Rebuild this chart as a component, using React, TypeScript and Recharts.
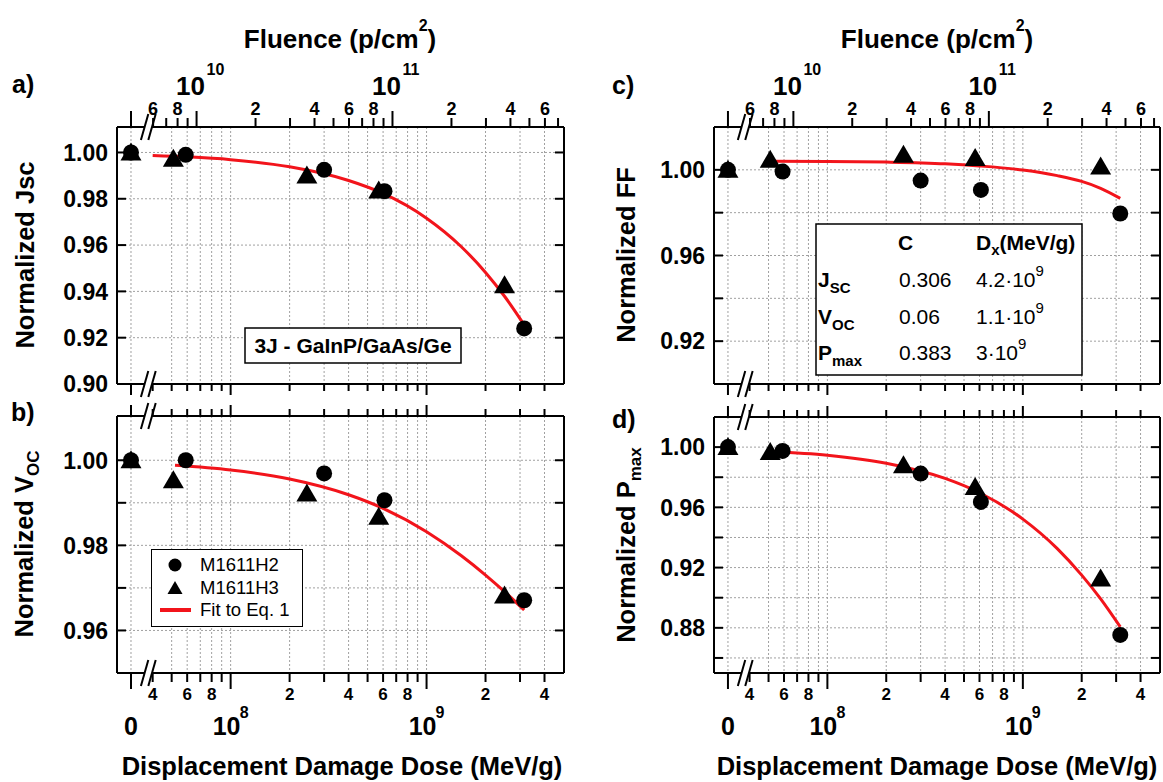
import React from 'react';
import { ComposedChart, Scatter, Line, XAxis, YAxis, CartesianGrid, Legend } from 'recharts';

const FONT = '"Liberation Sans", Arial, Helvetica, sans-serif';

/* ---------- measured cells ---------- */
// displacement damage dose (MeV/g); 0 = reference (unirradiated)
const doseH2 = [0, 5.9e7, 3.0e8, 6.1e8, 3.15e9];
const doseH3 = [0, 5.1e7, 2.45e8, 5.7e8, 2.5e9];

const jscH2 = [1.0, 0.999, 0.9925, 0.9833, 0.924];
const jscH3 = [1.0, 0.9973, 0.99, 0.9836, 0.9427];
const vocH2 = [1.0, 1.0, 0.9969, 0.9906, 0.9671];
const vocH3 = [1.0, 0.9953, 0.9922, 0.9867, 0.9682];
const ffH2 = [1.0, 0.9992, 0.995, 0.9906, 0.9796];
const ffH3 = [1.0, 1.0047, 1.0071, 1.0055, 1.0016];
const pmaxH2 = [1.0, 0.9975, 0.9824, 0.9636, 0.8753];
const pmaxH3 = [1.0, 0.9967, 0.9879, 0.9735, 0.9128];

/* ---------- fitted curves (Eq. 1) ---------- */
const fitDoseJsc = [4e7, 6e7, 1e8, 2e8, 4e8, 6e8, 1e9, 1.5e9, 2e9, 2.5e9, 3.2e9];
const fitJsc = [0.9987, 0.9981, 0.9969, 0.9938, 0.9879, 0.9823, 0.9716, 0.9594, 0.9482, 0.9379, 0.9247];
const fitDose = [5.2e7, 1e8, 2e8, 4e8, 6e8, 1e9, 1.5e9, 2e9, 2.5e9, 3.15e9];
const fitVoc = [0.9988, 0.9977, 0.9956, 0.9919, 0.9887, 0.9832, 0.9776, 0.973, 0.9691, 0.9648];
const fitFF = [1.004, 1.0039, 1.0036, 1.0028, 1.0018, 0.9999, 0.9973, 0.9946, 0.9914, 0.9867];
const fitPmax = [0.9971, 0.9946, 0.9893, 0.9792, 0.9697, 0.9522, 0.9326, 0.915, 0.8992, 0.8806];

/* ---------- fit parameters table ---------- */
const paramNames = ['J', 'V', 'P'];
const paramSubs = ['SC', 'OC', 'max'];
const paramC = ['0.306', '0.06', '0.383'];
const paramDx = ['4.2·10', '1.1·10', '3·10'];
const paramDxExp = ['9', '9', '9'];

/* ---------- axes ---------- */
const ZERO_POS = 3.1e7; // where the "0" dose sits left of the axis break
const BREAK_POS = 3.8e7;
const DOSE_DOMAIN: [number, number] = [2.63e7, 5.03e9];
const NIEL = 6.7e-3; // MeV·cm²/g, dose = NIEL × fluence
const FLUENCE_DOMAIN: [number, number] = [DOSE_DOMAIN[0] / NIEL, DOSE_DOMAIN[1] / NIEL];

const doseTicks = [
  ZERO_POS, BREAK_POS, 4e7, 5e7, 6e7, 7e7, 8e7, 9e7, 1e8,
  2e8, 3e8, 4e8, 5e8, 6e8, 7e8, 8e8, 9e8, 1e9, 2e9, 3e9, 4e9,
];
const doseTickLabels = [
  '0', '//', '4', '', '6', '', '8', '', '10^8',
  '2', '', '4', '', '6', '', '8', '', '10^9', '2', '', '4',
];
const doseGrid = [
  ZERO_POS, 5e7, 6e7, 7e7, 8e7, 9e7, 1e8, 2e8, 3e8, 4e8, 5e8, 6e8, 7e8, 8e8, 9e8,
  1e9, 2e9, 3e9, 4e9,
];
const fluenceTicks = [
  ZERO_POS / NIEL, BREAK_POS / NIEL, 6e9, 7e9, 8e9, 9e9, 1e10,
  2e10, 3e10, 4e10, 5e10, 6e10, 7e10, 8e10, 9e10, 1e11,
  2e11, 3e11, 4e11, 5e11, 6e11, 7e11,
];
const fluenceTickLabels = [
  '', '//', '6', '', '8', '', '10^10',
  '2', '', '4', '', '6', '', '8', '', '10^11',
  '2', '', '4', '', '6', '',
];

const jscTicks = [0.9, 0.92, 0.94, 0.96, 0.98, 1.0];
const jscLabels = [0.9, 0.92, 0.94, 0.96, 0.98, 1.0];
const vocTicks = [0.96, 0.97, 0.98, 0.99, 1.0];
const vocLabels = [0.96, 0.98, 1.0];
const ffTicks = [0.92, 0.94, 0.96, 0.98, 1.0];
const ffLabels = [0.92, 0.96, 1.0];
const pmaxTicks = [0.86, 0.88, 0.9, 0.92, 0.94, 0.96, 0.98, 1.0];
const pmaxLabels = [0.88, 0.92, 0.96, 1.0];

const legendNames = ['M1611H2', 'M1611H3', 'Fit to Eq. 1'];

const RED = '#f2141b';
const frame = { stroke: '#000', strokeWidth: 2 };
const bold = { fontFamily: FONT, fontWeight: 700, fill: '#000' } as const;
const AXIS_T = 1; // thickness reserved for each axis band

const toPoints = (xs: number[], ys: number[]) =>
  xs.map((d, i) => ({ x: d === 0 ? ZERO_POS : d, y: ys[i] }));

/* two parallel slashes marking the axis break */
const BreakMark = ({ cx, cy }: { cx: number; cy: number }) => {
  const h = 13;
  const s = 3.7;
  const g = 3.7;
  return (
    <g>
      <polygon
        points={`${cx - g - s},${cy + h} ${cx - g + s},${cy - h} ${cx + g + s},${cy - h} ${cx + g - s},${cy + h}`}
        fill="#fff"
      />
      <line x1={cx - g - s} y1={cy + h} x2={cx - g + s} y2={cy - h} stroke="#000" strokeWidth={2} />
      <line x1={cx + g - s} y1={cy + h} x2={cx + g + s} y2={cy - h} stroke="#000" strokeWidth={2} />
    </g>
  );
};

// outer axes carry labels and long ticks; the axes facing the neighbouring panel are shorter
const makeXTick = (labels: string[], side: 'top' | 'bottom', outer: boolean) => (props: any) => {
  const { x, y, index } = props;
  const lab: string = labels[index] ?? '';
  if (lab === '//') return <BreakMark cx={x} cy={y} />;
  const dir = side === 'bottom' ? 1 : -1;
  const major = index === 0 || lab.includes('^');
  const len = outer ? (major ? 16 : 9) : major ? 11 : 7;
  let text: React.ReactNode = null;
  if (outer && lab) {
    if (lab.includes('^')) {
      const [base, exp] = lab.split('^');
      text =
        side === 'bottom' ? (
          <>
            <text x={x - 4} y={y + 62} textAnchor="middle" fontSize={25} {...bold}>{base}</text>
            <text x={x + 9} y={y + 45} textAnchor="start" fontSize={16} {...bold}>{exp}</text>
          </>
        ) : (
          <>
            <text x={x - 6} y={y - 32} textAnchor="middle" fontSize={26} {...bold}>{base}</text>
            <text x={x + 10} y={y - 52} textAnchor="start" fontSize={16} {...bold}>{exp}</text>
          </>
        );
    } else if (index === 0) {
      text = <text x={x} y={y + 62} textAnchor="middle" fontSize={25} {...bold}>{lab}</text>;
    } else {
      text =
        side === 'bottom' ? (
          <text x={x} y={y + 27} textAnchor="middle" fontSize={17} {...bold}>{lab}</text>
        ) : (
          <text x={x} y={y - 12} textAnchor="middle" fontSize={18} {...bold}>{lab}</text>
        );
    }
  }
  return (
    <g>
      <line x1={x} x2={x} y1={y} y2={y + dir * len} stroke="#000" strokeWidth={2} />
      {text}
    </g>
  );
};

const makeYTick = (labels: number[], side: 'left' | 'right') => (props: any) => {
  const { x, y, payload } = props;
  const v = payload.value as number;
  const dir = side === 'left' ? 1 : -1;
  const show = side === 'left' && labels.some((l) => Math.abs(l - v) < 1e-9);
  return (
    <g>
      <line x1={x} x2={x + dir * 9} y1={y} y2={y} stroke="#000" strokeWidth={2} />
      {show && (
        <text x={x - 9} y={y} dy="0.36em" textAnchor="end" fontSize={23} {...bold}>
          {v.toFixed(2)}
        </text>
      )}
    </g>
  );
};

const CircleMark = (props: any) => <circle cx={props.cx} cy={props.cy} r={8} fill="#000" />;
const TriangleMark = (props: any) => {
  const { cx, cy } = props;
  return <polygon points={`${cx},${cy - 10} ${cx + 10.5},${cy + 8} ${cx - 10.5},${cy + 8}`} fill="#000" />;
};

const LegendBox = (props: any) => {
  const items = [...(props.payload ?? [])]
    .filter((it: any) => legendNames.includes(it.value))
    .sort((a: any, b: any) => legendNames.indexOf(a.value) - legendNames.indexOf(b.value));
  return (
    <div
      style={{
        width: 152,
        height: 78,
        boxSizing: 'border-box',
        border: '1.5px solid #000',
        background: '#fff',
        paddingTop: 4,
      }}
    >
      {items.map((it: any) => {
        const k = legendNames.indexOf(it.value);
        return (
          <div key={it.value} style={{ display: 'flex', alignItems: 'center', height: 22.5 }}>
            <svg width={48} height={20} style={{ flex: 'none' }}>
              {k === 0 && <circle cx={23} cy={10} r={6.5} fill="#000" />}
              {k === 1 && <polygon points="23,3 30.5,16 15.5,16" fill="#000" />}
              {k === 2 && <line x1={8} x2={39} y1={10} y2={10} stroke={RED} strokeWidth={4} />}
            </svg>
            <span style={{ fontFamily: FONT, fontSize: 18.5, color: '#000', lineHeight: 1 }}>{it.value}</span>
          </div>
        );
      })}
    </div>
  );
};

type Box = { top: number; right: number; bottom: number; left: number };

type PanelProps = {
  width: number;
  height: number;
  plot: Box; // distance of the plot frame from each chart edge
  yDomain: [number, number];
  yTicks: number[];
  yLabels: number[];
  h2: number[];
  h3: number[];
  fitX: number[];
  fitY: number[];
  topAxis: 'fluence' | 'dose';
  bottomLabels: boolean;
  legendAt?: { left: number; top: number };
};

function Panel(p: PanelProps) {
  const fluTop = p.topAxis === 'fluence';
  const hGrid = p.yTicks.filter((v) => v > p.yDomain[0] + 1e-9 && v < p.yDomain[1] - 1e-9);
  // every axis reserves AXIS_T px, so shrink the margins by that amount
  const margin = {
    top: p.plot.top - AXIS_T,
    bottom: p.plot.bottom - AXIS_T,
    left: p.plot.left - AXIS_T,
    right: p.plot.right - AXIS_T,
  };
  // frame corners, in dose and in fluence: data for the secondary (top / right) axes
  const frameCorners = [
    { x: DOSE_DOMAIN[0], fluence: FLUENCE_DOMAIN[0], y: p.yDomain[0] },
    { x: DOSE_DOMAIN[1], fluence: FLUENCE_DOMAIN[1], y: p.yDomain[1] },
  ];
  const xCommon = {
    type: 'number' as const,
    scale: 'log' as const,
    allowDataOverflow: true,
    interval: 0 as const,
    height: AXIS_T,
    tickSize: 0,
    tickMargin: 0,
    tickLine: false,
    axisLine: frame,
  };
  const yCommon = {
    type: 'number' as const,
    dataKey: 'y',
    domain: p.yDomain,
    allowDataOverflow: true,
    ticks: p.yTicks,
    interval: 0 as const,
    width: AXIS_T,
    tickSize: 0,
    tickMargin: 0,
    tickLine: false,
    axisLine: frame,
  };
  return (
    <ComposedChart width={p.width} height={p.height} margin={margin} data={frameCorners}>
      <CartesianGrid
        xAxisId="dose"
        yAxisId="val"
        verticalValues={doseGrid}
        horizontalValues={hGrid}
        stroke="#a0a0a0"
        strokeDasharray="2 2"
        strokeWidth={1}
      />
      <XAxis
        {...xCommon}
        xAxisId="dose"
        dataKey="x"
        domain={DOSE_DOMAIN}
        ticks={doseTicks}
        tick={makeXTick(doseTickLabels, 'bottom', p.bottomLabels)}
      />
      <XAxis
        {...xCommon}
        xAxisId="top"
        orientation="top"
        dataKey={fluTop ? 'fluence' : 'x'}
        domain={fluTop ? FLUENCE_DOMAIN : DOSE_DOMAIN}
        ticks={fluTop ? fluenceTicks : doseTicks}
        tick={makeXTick(fluTop ? fluenceTickLabels : doseTickLabels, 'top', fluTop)}
      />
      <YAxis {...yCommon} yAxisId="val" tick={makeYTick(p.yLabels, 'left')} />
      <YAxis {...yCommon} yAxisId="right" orientation="right" tick={makeYTick(p.yLabels, 'right')} />
      <Scatter
        xAxisId="dose"
        yAxisId="val"
        name={legendNames[0]}
        data={toPoints(doseH2, p.h2)}
        shape={CircleMark}
        legendType="circle"
        isAnimationActive={false}
      />
      <Scatter
        xAxisId="dose"
        yAxisId="val"
        name={legendNames[1]}
        data={toPoints(doseH3, p.h3)}
        shape={TriangleMark}
        legendType="triangle"
        isAnimationActive={false}
      />
      <Line
        xAxisId="dose"
        yAxisId="val"
        name={legendNames[2]}
        data={toPoints(p.fitX, p.fitY)}
        dataKey="y"
        type="monotone"
        stroke={RED}
        strokeWidth={3}
        dot={false}
        activeDot={false}
        legendType="line"
        isAnimationActive={false}
      />
      {p.legendAt && (
        <Legend
          layout="vertical"
          verticalAlign="middle"
          align="center"
          width={152}
          height={78}
          content={LegendBox}
          wrapperStyle={{ left: p.legendAt.left, top: p.legendAt.top, width: 152, height: 78 }}
        />
      )}
    </ComposedChart>
  );
}

export default function App() {
  const yTitle = (cx: number, cy: number, main: string, sub?: string) => (
    <text
      x={cx}
      y={cy}
      dy="0.36em"
      transform={`rotate(-90 ${cx} ${cy})`}
      textAnchor="middle"
      fontSize={25.5}
      {...bold}
    >
      {main}
      {sub && (
        <tspan dy={6} fontSize={17}>
          {sub}
        </tspan>
      )}
    </text>
  );

  return (
    <div
      style={{
        position: 'absolute',
        left: 0,
        top: 0,
        width: 1163,
        height: 782,
        background: '#fff',
        overflow: 'hidden',
      }}
    >
      <div style={{ position: 'absolute', left: 0, top: 0 }}>
        <Panel
          width={580}
          height={400}
          plot={{ top: 127, bottom: 16, left: 117, right: 16 }}
          yDomain={[0.9, 1.011]}
          yTicks={jscTicks}
          yLabels={jscLabels}
          h2={jscH2}
          h3={jscH3}
          fitX={fitDoseJsc}
          fitY={fitJsc}
          topAxis="fluence"
          bottomLabels={false}
        />
      </div>
      <div style={{ position: 'absolute', left: 0, top: 400 }}>
        <Panel
          width={580}
          height={382}
          plot={{ top: 16, bottom: 109, left: 117, right: 16 }}
          yDomain={[0.95, 1.0104]}
          yTicks={vocTicks}
          yLabels={vocLabels}
          h2={vocH2}
          h3={vocH3}
          fitX={fitDose}
          fitY={fitVoc}
          topAxis="dose"
          bottomLabels
          legendAt={{ left: 151, top: 149 }}
        />
      </div>
      <div style={{ position: 'absolute', left: 580, top: 0 }}>
        <Panel
          width={583}
          height={400}
          plot={{ top: 127, bottom: 16, left: 134, right: 3 }}
          yDomain={[0.9, 1.02]}
          yTicks={ffTicks}
          yLabels={ffLabels}
          h2={ffH2}
          h3={ffH3}
          fitX={fitDose}
          fitY={fitFF}
          topAxis="fluence"
          bottomLabels={false}
        />
      </div>
      <div style={{ position: 'absolute', left: 580, top: 400 }}>
        <Panel
          width={583}
          height={382}
          plot={{ top: 17, bottom: 109, left: 134, right: 3 }}
          yDomain={[0.85, 1.02]}
          yTicks={pmaxTicks}
          yLabels={pmaxLabels}
          h2={pmaxH2}
          h3={pmaxH3}
          fitX={fitDose}
          fitY={fitPmax}
          topAxis="dose"
          bottomLabels
        />
      </div>

      <svg
        width={1163}
        height={782}
        style={{ position: 'absolute', left: 0, top: 0, pointerEvents: 'none' }}
      >
        {[340, 937].map((cx) => (
          <text key={`flu-${cx}`} x={cx} y={48} textAnchor="middle" fontSize={26} {...bold}>
            Fluence (p/cm
            <tspan dy={-17} fontSize={16}>2</tspan>
            <tspan dy={17}>)</tspan>
          </text>
        ))}
        {[342, 937].map((cx) => (
          <text key={`ddd-${cx}`} x={cx} y={775} textAnchor="middle" fontSize={25.5} {...bold}>
            Displacement Damage Dose (MeV/g)
          </text>
        ))}

        <text x={12} y={93} fontSize={25} {...bold}>a)</text>
        <text x={11} y={421} fontSize={25} {...bold}>b)</text>
        <text x={612} y={94} fontSize={25} {...bold}>c)</text>
        <text x={612} y={428} fontSize={25} {...bold}>d)</text>

        {yTitle(25, 255, 'Normalized Jsc')}
        {yTitle(24, 544, 'Normalized V', 'OC')}
        {yTitle(626, 255, 'Normalized FF')}
        {yTitle(626, 545, 'Normalized P', 'max')}

        {/* device label */}
        <rect x={245} y={328} width={216} height={35} fill="#fff" stroke="#000" strokeWidth={1.5} />
        <text x={353} y={353} textAnchor="middle" fontSize={21} {...bold}>
          3J - GaInP/GaAs/Ge
        </text>

        {/* fit parameters */}
        <rect x={816} y={224} width={266} height={151} fill="#fff" stroke="#000" strokeWidth={1.5} />
        <text x={898} y={250} fontSize={21} {...bold}>C</text>
        <text x={976} y={250} fontSize={21} {...bold}>
          D<tspan dy={5} fontSize={15}>x</tspan>
          <tspan dy={-5}>(MeV/g)</tspan>
        </text>
        {paramNames.map((n, i) => {
          const base = 287 + i * 36.5;
          return (
            <g key={n}>
              <text x={818} y={base} fontSize={21} {...bold}>
                {n}
                <tspan dy={6} fontSize={15}>{paramSubs[i]}</tspan>
              </text>
              <text x={899} y={base} fontSize={21} fontFamily={FONT} fill="#000">
                {paramC[i]}
              </text>
              <text x={976} y={base} fontSize={21} fontFamily={FONT} fill="#000">
                {paramDx[i]}
                <tspan dy={-11} fontSize={15}>{paramDxExp[i]}</tspan>
              </text>
            </g>
          );
        })}
      </svg>
    </div>
  );
}
